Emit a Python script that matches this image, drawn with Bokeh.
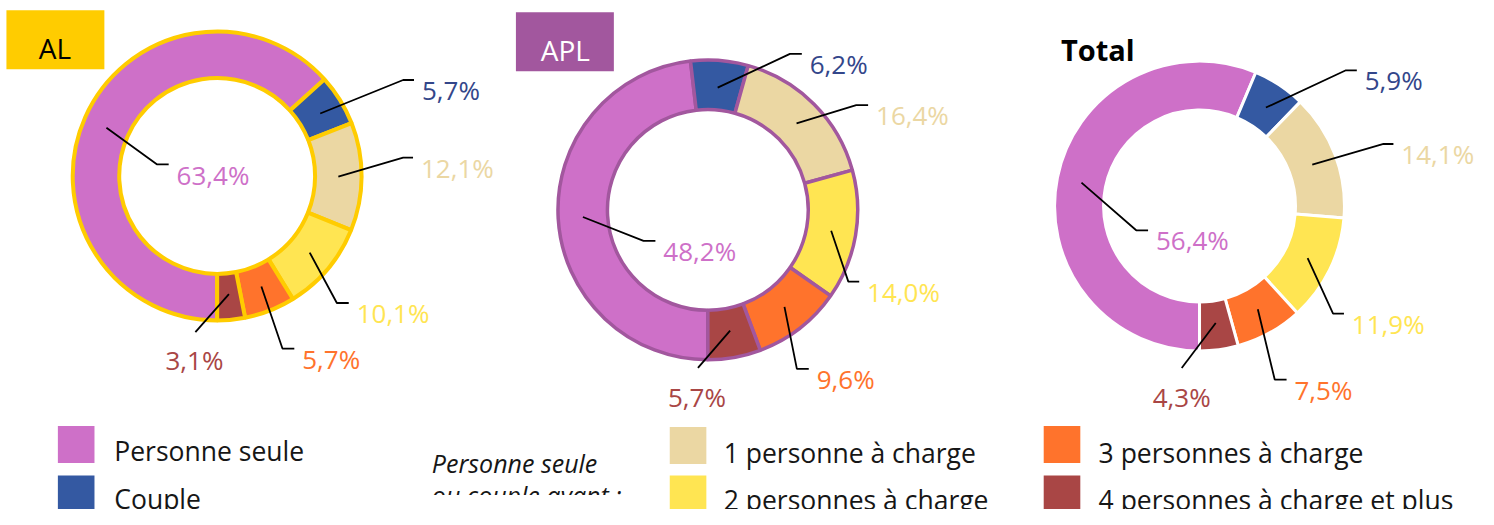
import numpy as np
from bokeh.plotting import figure
from bokeh.models import Range1d, ColumnDataSource
from bokeh.core.properties import value
from bokeh.embed import file_html
from bokeh.resources import INLINE

# ---------------- data ----------------
categories = ["Personne seule", "Couple", "1 personne à charge",
              "2 personnes à charge", "3 personnes à charge",
              "4 personnes à charge et plus"]
al_values = [63.4, 5.7, 12.1, 10.1, 5.7, 3.1]
apl_values = [48.2, 6.2, 16.4, 14.0, 9.6, 5.7]
total_values = [56.4, 5.9, 14.1, 11.9, 7.5, 4.3]
titles = ["AL", "APL", "Total"]
legend_title = ["Personne seule", "ou couple ayant :"]

colors = ["#CE70C8", "#3459A2", "#EBD7A3", "#FFE552", "#FF732C", "#A94645"]
label_colors = ["#CE70C8", "#33468A", "#EBD7A3", "#FFE552", "#FF732C", "#A94645"]

# ---------------- layout ----------------
# the drawing is laid out on a 1494 x 525 design grid, shown in a 1478 x 509 figure
GW, GH = 1494, 525
W, H = 1478, 509
FONT = value("Open Sans")


def Y(py):
    return -py


p = figure(width=W, height=H, x_range=Range1d(0, GW), y_range=Range1d(-GH, 0),
           output_backend="svg", toolbar_location=None, min_border=0,
           outline_line_color=None, x_axis_location=None, y_axis_location=None,
           background_fill_color="white", border_fill_color="white")
p.grid.visible = False

donuts = [
    dict(vals=al_values, cx=219, cy=181, r_out=146, r_in=99, stroke="#FFCC00", lw=4,
         # (elbow x, elbow y, horizontal end x) per slice; last: (end x, end y, label cx, baseline)
         lay=[(158, 169, 170), (407, 82, 418), (407, 162, 417), (340, 312, 352), (285, 359, 297)],
         last=(197, 342, 196, 371)),
    dict(vals=apl_values, cx=715, cy=216, r_out=151.5, r_in=101.5, stroke="#A2579E", lw=3.5,
         lay=[(650, 248, 662), (798, 55, 810), (865, 108, 877), (857, 290, 868), (805, 380, 817)],
         last=(705, 379, 704, 409)),
    dict(vals=total_values, cx=1212, cy=212, r_out=146.5, r_in=97, stroke="white", lw=3,
         lay=[(1148, 237, 1160), (1360, 72, 1371), (1398, 148, 1408), (1347, 323, 1358), (1288, 391, 1300)],
         last=(1194, 379, 1194, 409)),
]

for d in donuts:
    v = np.array(d["vals"], dtype=float)
    frac = v / v.sum()
    cum_after = np.cumsum(frac)
    cum_before = cum_after - frac
    th0 = np.deg2rad(270 - 360 * cum_before)
    th1 = np.deg2rad(270 - 360 * cum_after)
    src = ColumnDataSource(dict(
        x=[d["cx"]] * len(v), y=[Y(d["cy"])] * len(v),
        start=th1, end=th0, color=colors))
    p.annular_wedge(x="x", y="y", inner_radius=d["r_in"], outer_radius=d["r_out"],
                    start_angle="start", end_angle="end", fill_color="color",
                    line_color=d["stroke"], line_width=d["lw"], source=src)

    mid = (th0 + th1) / 2
    rm = (d["r_in"] + d["r_out"]) / 2
    sx = d["cx"] + rm * np.cos(mid)
    sy = Y(d["cy"]) + rm * np.sin(mid)

    xs, ys = [], []
    lx, lyb, ltxt, lcol = [], [], [], []
    for i, (ex, ey, hx) in enumerate(d["lay"]):
        xs.append([sx[i], ex, hx])
        ys.append([sy[i], Y(ey), Y(ey)])
        lx.append(hx + 8)
        lyb.append(Y(ey + 10.5))
        ltxt.append(("%.1f%%" % v[i]).replace(".", ","))
        lcol.append(label_colors[i])
    ex, ey, lcx, lb = d["last"]
    xs.append([sx[5], ex])
    ys.append([sy[5], Y(ey)])
    p.multi_line(xs=xs, ys=ys, line_color="black", line_width=1.8)
    p.text(x=lx, y=lyb, text=ltxt, text_color=lcol, text_font=FONT,
           text_font_size="26px", text_baseline="alphabetic", text_align="left")
    p.text(x=[lcx], y=[Y(lb)], text=[("%.1f%%" % v[5]).replace(".", ",")],
           text_color=label_colors[5], text_font=FONT, text_font_size="26px",
           text_baseline="alphabetic", text_align="center")

# titles
p.rect(x=[55.5, 570.5], y=[Y(40.5), Y(42.5)], width=99, height=61,
       fill_color=["#FFCC00", "#A2579E"], line_color=None)
p.text(x=[55, 571], y=[Y(49.5), Y(51)], text=titles[:2], text_color=["black", "white"],
       text_font=FONT, text_font_size="28px", text_baseline="alphabetic", text_align="center")
p.text(x=[1072], y=[Y(51)], text=[titles[2]], text_color="black", text_font=FONT,
       text_font_size="29px", text_font_style="bold", text_baseline="alphabetic",
       text_align="left")

# legend
sq_x = [76.5, 76.5, 695, 695, 1073, 1073]
sq_y = [458, 509, 459, 509, 458, 509]
tx_x = [115, 115, 731, 731, 1110, 1110]
tx_b = [465, 514, 467, 515, 467, 515]
p.rect(x=sq_x, y=[Y(s) for s in sq_y], width=37, height=38, fill_color=colors, line_color=None)
p.text(x=tx_x, y=[Y(b) for b in tx_b], text=categories, text_color="#161616",
       text_font=FONT, text_font_size="26.5px", text_baseline="alphabetic", text_align="left")
p.text(x=[436, 436], y=[Y(477), Y(510)], text=legend_title, text_color="#161616",
       text_font=FONT, text_font_size="25px", text_font_style="italic",
       text_baseline="alphabetic", text_align="left")
# the second italic line is cut at its lower edge in the original
p.quad(left=[428], right=[665], top=[Y(510)], bottom=[Y(530)], fill_color="white", line_color=None)

open("out.html", "w").write(file_html(p, INLINE))
